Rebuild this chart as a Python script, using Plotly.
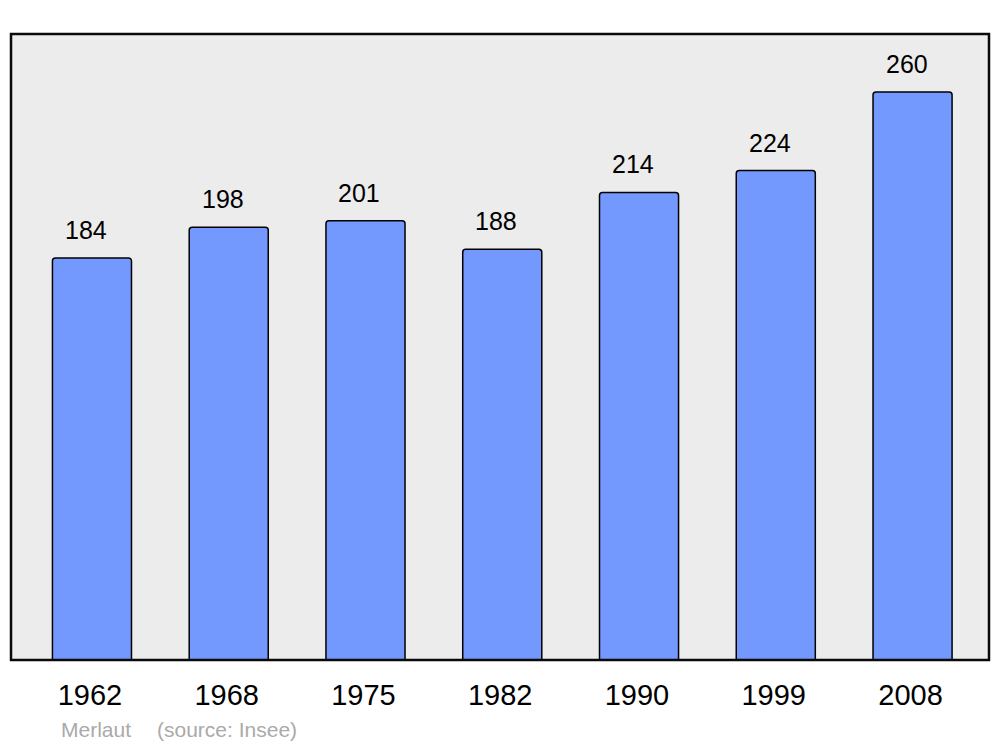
import plotly.graph_objects as go

years = ["1962", "1968", "1975", "1982", "1990", "1999", "2008"]
population = [184, 198, 201, 188, 214, 224, 260]
commune = "Merlaut"
source = "(source: Insee)"

x_idx = list(range(len(years)))

fig = go.Figure()
fig.add_trace(go.Bar(
    x=x_idx, y=population, width=0.578,
    marker=dict(color="#7399FF", line=dict(color="#000000", width=1.5), cornerradius=3),
    hoverinfo="skip",
))

for i, v in zip(x_idx, population):
    fig.add_annotation(x=i, y=v, text=str(v), showarrow=False, xref="x", yref="y",
                       yanchor="bottom", yshift=12, xshift=-6,
                       font=dict(family="Liberation Sans, Arial", size=25, color="#000000"))

fig.add_annotation(x=0.0495, y=-0.1105, xref="paper", yref="paper", text=commune,
                   showarrow=False, xanchor="left", yanchor="middle",
                   font=dict(family="Liberation Sans, Arial", size=21, color="#AAAAAA"))
fig.add_annotation(x=0.147, y=-0.1105, xref="paper", yref="paper", text=source,
                   showarrow=False, xanchor="left", yanchor="middle",
                   font=dict(family="Liberation Sans, Arial", size=21, color="#AAAAAA"))

fig.add_shape(type="rect", xref="paper", yref="paper", x0=0, x1=1, y0=0, y1=1,
              line=dict(color="#0A0A0A", width=2.5), layer="above")

fig.update_layout(
    width=1000, height=747,
    margin=dict(l=11, r=11, t=34, b=87),
    paper_bgcolor="#FFFFFF", plot_bgcolor="#ECECEC",
    showlegend=False,
    xaxis=dict(range=[-0.592, 6.559], tickmode="array",
               tickvals=[i - 0.015 for i in x_idx], ticktext=years,
               showgrid=False, zeroline=False, showline=False, ticks="",
               ticklabelstandoff=15,
               tickfont=dict(family="Liberation Sans, Arial", size=29, color="#000000")),
    yaxis=dict(range=[0, 286.5], showgrid=False, zeroline=False, showticklabels=False,
               showline=False, ticks=""),
)

fig.write_html("out.html", config={"displayModeBar": False},
               post_script="document.body.style.margin='0';document.body.style.overflow='hidden';")
